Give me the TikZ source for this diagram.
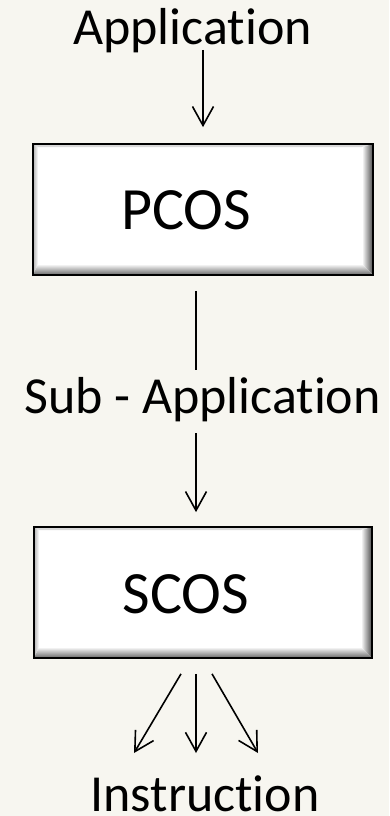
\documentclass[tikz,border=0pt]{standalone}
\usepackage{fontspec}
\setmainfont[Ligatures=NoCommon]{Carlito}
\usetikzlibrary{arrows.meta,calc}
\definecolor{paper}{HTML}{F7F6F0}
\tikzset{
  lbl/.style={inner sep=0pt, anchor=base, font=\fontsize{52}{52}\selectfont},
  boxlbl/.style={inner sep=0pt, anchor=base, font=\fontsize{60}{60}\selectfont},
  bevelbox/.style={draw=black, line width=1.7pt, fill=white,
    minimum width=#1, minimum height=131pt, inner sep=0pt,
    path picture={
      \coordinate (nw) at (path picture bounding box.north west);
      \coordinate (ne) at (path picture bounding box.north east);
      \coordinate (sw) at (path picture bounding box.south west);
      \coordinate (se) at (path picture bounding box.south east);
      % thin light bevel on top and left
      \fill[black!15] (nw) -- (ne) -- ($(ne)+(-11,-3)$) -- ($(nw)+(4,-3)$) -- cycle;
      \shade[left color=black!30, right color=white]
        (nw) -- ($(nw)+(5,-3)$) -- ($(sw)+(5,11)$) -- (sw) -- cycle;
      % darker bevel on right and bottom
      \shade[left color=white, right color=black!70]
        ($(ne)+(-11,-3)$) -- (ne) -- (se) -- ($(se)+(-11,11)$) -- cycle;
      \shade[top color=white, bottom color=black!60]
        ($(sw)+(5,11)$) -- ($(se)+(-11,11)$) -- (se) -- (sw) -- cycle;
    }},
  arr/.style={line width=1.6pt, -{Straight Barb[length=19pt,width=21pt,line width=1.6pt]}},
  plain/.style={line width=1.6pt}
}
\begin{document}
\begin{tikzpicture}[x=1pt,y=1pt]
  \fill[paper] (0,0) rectangle (389,-816);
  \useasboundingbox (0,0) rectangle (389,-816);

  % nodes
  \node[lbl] (app) at (192.5,-45) {Application};
  \node[bevelbox=340pt] (pcos) at (203,-209.5) {};
  \node[boxlbl] (pcostext) at (186,-229) {PCOS};
  \node[lbl] (sub) at (202.5,-413) {Sub - Application};
  \node[bevelbox=338pt] (scos) at (203,-592.5) {};
  \node[boxlbl] (scostext) at (186,-613) {SCOS};
  \node[lbl] (ins) at (205,-811) {Instruction};

  % Application -> PCOS
  \draw[arr] ([yshift=-5pt]app.base -| pcos.north) -- ([yshift=16pt]pcos.north);
  % PCOS -> Sub - Application (plain line)
  \draw[plain] ([xshift=-7pt,yshift=-15pt]pcos.south) -- ([xshift=-7pt,yshift=-94pt]pcos.south);
  % Sub - Application -> SCOS
  \draw[arr] ([xshift=-7pt,yshift=-20pt]sub.base -| scos.north) -- ([xshift=-7pt,yshift=14pt]scos.north);
  % SCOS -> Instruction (three branches)
  \draw[arr] ([xshift=-7pt,yshift=-15pt]scos.south) -- ([xshift=-9pt,yshift=58pt]ins.base);
  \draw[arr] ([xshift=-22pt,yshift=-15pt]scos.south) -- ([xshift=-71pt,yshift=58pt]ins.base);
  \draw[arr] ([xshift=9pt,yshift=-15pt]scos.south) -- ([xshift=53pt,yshift=58pt]ins.base);
\end{tikzpicture}
\end{document}
